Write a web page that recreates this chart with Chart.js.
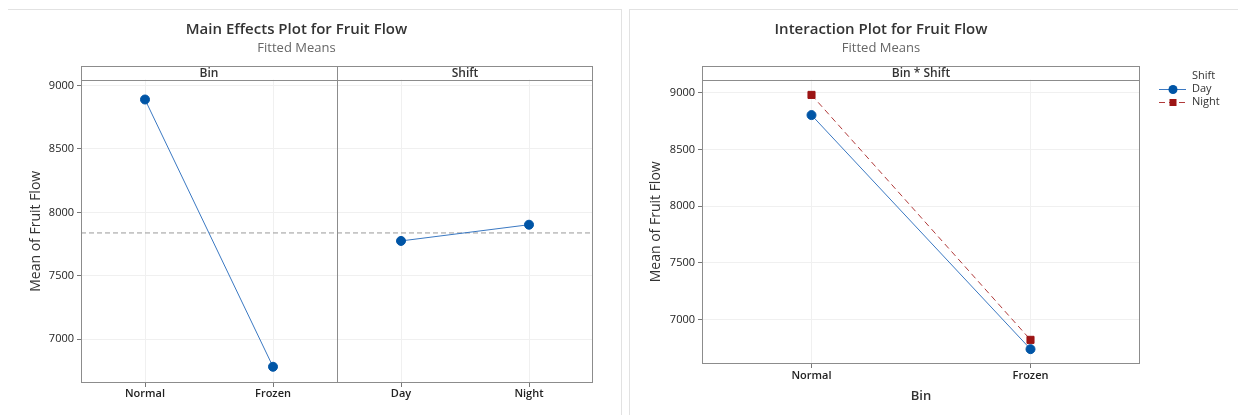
<!DOCTYPE html>
<html>
<head>
<meta charset="utf-8">
<script src="https://cdn.jsdelivr.net/npm/chart.js"></script>
<style>
  body { margin: 0; background: #fff; width: 1238px; height: 415px; overflow: hidden; position: relative; }
  .panel { position: absolute; top: 9px; height: 406px; border-top: 1px solid #e2e2e2; }
  #panelLeft { left: 8px; width: 613px; border-right: 1px solid #e2e2e2; }
  #panelRight { left: 629px; width: 609px; border-left: 1px solid #e2e2e2; }
  canvas { position: absolute; top: 0; }
  #mainEffects { left: 0; }
  #interaction { left: 622px; }
</style>
</head>
<body>
<div class="panel" id="panelLeft"></div>
<div class="panel" id="panelRight"></div>
<canvas id="mainEffects" width="674" height="415"></canvas>
<canvas id="interaction" width="600" height="415"></canvas>
<script>
// ---------------- data ----------------
const binLevels = ["Normal", "Frozen"];
const shiftLevels = ["Day", "Night"];
const binMeans = [8890, 6783];
const shiftMeans = [7775, 7903];
const grandMean = 7838;
const dayMeans = [8804, 6740];    // Bin * Shift, Shift = Day
const nightMeans = [8982, 6822];  // Bin * Shift, Shift = Night
const yTicks = [7000, 7500, 8000, 8500, 9000];

// ---------------- style ----------------
const FONT = "'Open Sans', 'Noto Sans', sans-serif";
const textColor = "#333";
const frameColor = "#8c8c8c";
const gridColor = "#f0f0f0";
const blue = "#0055a6";
const blueLine = "#3a78c2";
const red = "#9c1414";
const redLine = "#b03a3a";
const stripHeight = 14;

Chart.defaults.font.family = FONT;
Chart.defaults.color = textColor;

// frame + facet strips drawn over the plot area
function facetPlugin(strips) {
  return {
    id: "facets",
    afterDraw(chart) {
      const { ctx, chartArea: a, scales: { x } } = chart;
      ctx.save();
      ctx.strokeStyle = frameColor;
      ctx.lineWidth = 1;
      const l = Math.round(a.left) + 0.5, r = Math.round(a.right) - 0.5;
      const t = Math.round(a.top) + 0.5, b = Math.round(a.bottom) - 0.5;
      ctx.strokeRect(l, t - stripHeight, r - l, b - t + stripHeight);
      ctx.beginPath();
      ctx.moveTo(l, t);
      ctx.lineTo(r, t);
      ctx.stroke();
      ctx.fillStyle = textColor;
      ctx.font = "600 12px " + FONT;
      ctx.textAlign = "center";
      ctx.textBaseline = "middle";
      strips.forEach(s => {
        const x0 = x.getPixelForValue(s.from), x1 = x.getPixelForValue(s.to);
        if (s.from > x.min) {
          ctx.beginPath();
          ctx.moveTo(Math.round(x0) + 0.5, t - stripHeight);
          ctx.lineTo(Math.round(x0) + 0.5, b);
          ctx.stroke();
        }
        ctx.fillText(s.label, (x0 + x1) / 2, t - stripHeight / 2 + 0.5);
      });
      ctx.restore();
    }
  };
}

function titles(main) {
  return {
    title: { display: true, text: main, color: textColor, font: { size: 15, weight: "600" }, padding: { top: 21, bottom: 0 } },
    subtitle: { display: true, text: "Fitted Means", color: "#666", font: { size: 13, weight: "normal" }, padding: { top: 1, bottom: 24 } }
  };
}

function yAxis(min, max, width, titlePad) {
  return {
    min: min, max: max,
    afterBuildTicks: s => { s.ticks = yTicks.map(v => ({ value: v })); },
    ticks: { padding: 3, color: "#222", font: { size: 11 }, callback: v => String(v) },
    grid: { color: gridColor, tickColor: "#777", tickLength: 4 },
    border: { display: false },
    title: { display: true, text: "Mean of Fruit Flow", color: textColor, font: { size: 14 }, padding: { top: titlePad, bottom: 0 } },
    afterFit: s => { s.width = width; }
  };
}

function xAxis(levels, height) {
  return {
    type: "linear", min: 0.5, max: levels.length + 0.5,
    afterBuildTicks: s => { s.ticks = levels.map((_, i) => ({ value: i + 1 })); },
    ticks: { autoSkip: false, maxRotation: 0, padding: 0,
             color: "#222", font: { size: 11, weight: "600" }, callback: v => levels[Math.round(v) - 1] },
    grid: { color: gridColor, tickColor: "#777", tickLength: 4 },
    border: { display: false },
    afterFit: s => { s.height = height; }
  };
}

// ---------------- main effects ----------------
const allLevels = [...binLevels, ...shiftLevels];

new Chart(document.getElementById("mainEffects"), {
  type: "line",
  data: {
    datasets: [
      {
        label: "Bin",
        data: binMeans.map((v, i) => ({ x: i + 1, y: v })),
        borderColor: blueLine, borderWidth: 1,
        pointBackgroundColor: blue, pointBorderColor: blue, pointRadius: 4.5
      },
      {
        label: "Shift",
        data: shiftMeans.map((v, i) => ({ x: binLevels.length + i + 1, y: v })),
        borderColor: blueLine, borderWidth: 1,
        pointBackgroundColor: blue, pointBorderColor: blue, pointRadius: 4.5
      },
      {
        label: "Mean",
        data: [{ x: 0.5, y: grandMean }, { x: allLevels.length + 0.5, y: grandMean }],
        borderColor: "#9a9a9a", borderWidth: 1, borderDash: [5, 3], pointRadius: 0
      }
    ]
  },
  options: {
    responsive: false,
    animation: false,
    layout: { padding: { left: 0, right: 81, bottom: 0 } },
    plugins: Object.assign({ legend: { display: false }, tooltip: { enabled: false } }, titles("Main Effects Plot for Fruit Flow")),
    scales: {
      x: xAxis(allLevels, 32),
      y: yAxis(6655, 9047, 81, 28)
    }
  },
  plugins: [facetPlugin([
    { label: "Bin", from: 0.5, to: binLevels.length + 0.5 },
    { label: "Shift", from: binLevels.length + 0.5, to: allLevels.length + 0.5 }
  ])]
});

// ---------------- interaction ----------------
const legendPlugin = {
  id: "shiftLegend",
  afterDraw(chart) {
    const ctx = chart.ctx;
    const x0 = 537, x1 = 564, xm = 551, tx = 570;
    ctx.save();
    ctx.font = "11px " + FONT;
    ctx.fillStyle = textColor;
    ctx.textBaseline = "middle";
    ctx.fillText("Shift", tx, 76);
    ctx.fillText(shiftLevels[0], tx, 89);
    ctx.fillText(shiftLevels[1], tx, 102);
    ctx.lineWidth = 1;
    ctx.strokeStyle = blueLine;
    ctx.beginPath(); ctx.moveTo(x0, 89.5); ctx.lineTo(x1, 89.5); ctx.stroke();
    ctx.fillStyle = blue;
    ctx.beginPath(); ctx.arc(xm, 89.5, 4.5, 0, Math.PI * 2); ctx.fill();
    ctx.strokeStyle = redLine;
    ctx.setLineDash([6, 4]);
    ctx.beginPath(); ctx.moveTo(x0, 102.5); ctx.lineTo(x1, 102.5); ctx.stroke();
    ctx.setLineDash([]);
    ctx.fillStyle = red;
    ctx.fillRect(xm - 3.5, 99, 7, 7);
    ctx.restore();
  }
};

const interX = xAxis(binLevels, 51);
interX.ticks.padding = 1;
interX.title = { display: true, text: "Bin", color: textColor, font: { size: 13, weight: "600" }, padding: { top: 0, bottom: 11 } };

new Chart(document.getElementById("interaction"), {
  type: "line",
  data: {
    datasets: [
      {
        label: shiftLevels[0],
        data: dayMeans.map((v, i) => ({ x: i + 1, y: v })),
        borderColor: blueLine, borderWidth: 1,
        pointStyle: "circle", pointBackgroundColor: blue, pointBorderColor: blue, pointRadius: 4.5
      },
      {
        label: shiftLevels[1],
        data: nightMeans.map((v, i) => ({ x: i + 1, y: v })),
        borderColor: redLine, borderWidth: 1, borderDash: [6, 4],
        pointStyle: "rect", pointBackgroundColor: red, pointBorderColor: red, pointRadius: 5
      }
    ]
  },
  options: {
    responsive: false,
    animation: false,
    layout: { padding: { left: 0, right: 82, bottom: 0 } },
    plugins: Object.assign({ legend: { display: false }, tooltip: { enabled: false } }, titles("Interaction Plot for Fruit Flow")),
    scales: {
      x: interX,
      y: yAxis(6609, 9117, 80, 26)
    }
  },
  plugins: [facetPlugin([{ label: "Bin * Shift", from: 0.5, to: binLevels.length + 0.5 }]), legendPlugin]
});
</script>
</body>
</html>
